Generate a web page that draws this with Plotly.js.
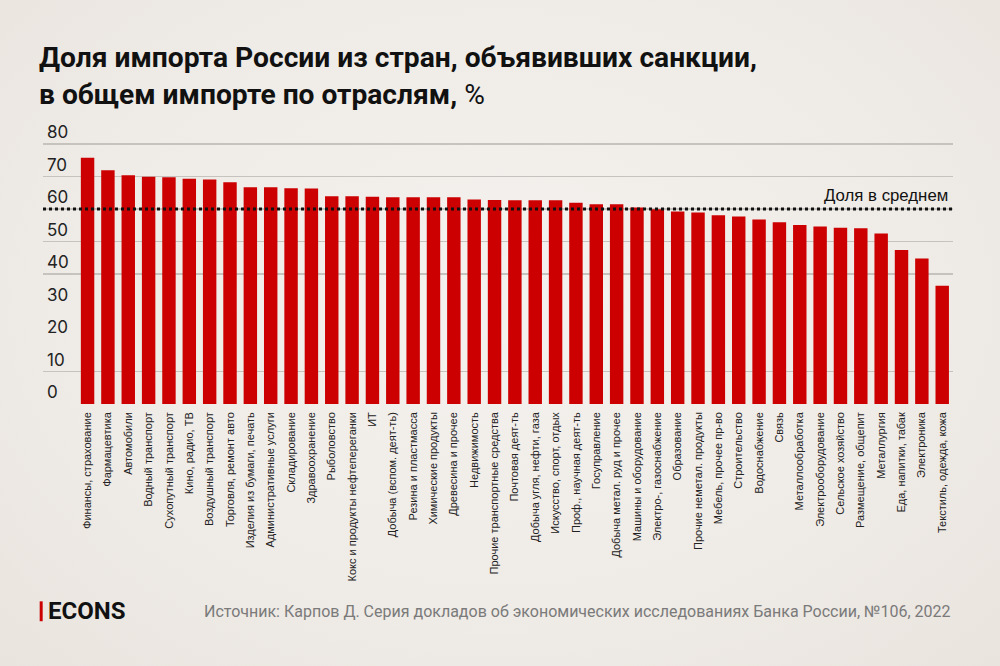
<!DOCTYPE html>
<html>
<head>
<meta charset="utf-8">
<script src="https://cdn.plot.ly/plotly-3.0.1.min.js"></script>
<style>
  html, body { margin: 0; padding: 0; }
  body { width: 1000px; height: 666px; background: radial-gradient(ellipse at 50% 45%, #f4f2ef 0%, #efebe6 60%, #e9e4de 100%); }
  #chart { width: 1000px; height: 666px; }
</style>
</head>
<body>
<div id="chart"></div>
<script>
const categories = [
  "Финансы, страхование", "Фармацевтика", "Автомобили", "Водный транспорт",
  "Сухопутный транспорт", "Кино, радио, ТВ", "Воздушный транспорт", "Торговля, ремонт авто",
  "Изделия из бумаги, печать", "Административные услуги", "Складирование", "Здравоохранение",
  "Рыболовство", "Кокс и продукты нефтепереганки", "ИТ", "Добыча (вспом. деят-ть)",
  "Резина и пластмасса", "Химические продукты", "Древесина и прочее", "Недвижимость",
  "Прочие транспортные средства", "Почтовая деят-ть", "Добыча угля, нефти, газа", "Искусство, спорт, отдых",
  "Проф., научная деят-ть", "Госуправление", "Добыча метал. руд и прочее", "Машины и оборудование",
  "Электро-, газоснабжение", "Образование", "Прочие неметал. продукты", "Мебель, прочее пр-во",
  "Строительство", "Водоснабжение", "Связь", "Металлообработка",
  "Электрооборудование", "Сельское хозяйство", "Размещение, общепит", "Металлургия",
  "Еда, напитки, табак", "Электроника", "Текстиль, одежда, кожа"
];
const values = [
  75.8, 71.9, 70.4, 69.9, 69.8, 69.3, 69.1, 68.2,
  66.7, 66.7, 66.4, 66.3, 63.9, 63.9, 63.8, 63.6,
  63.6, 63.6, 63.6, 62.9, 62.8, 62.7, 62.7, 62.7,
  61.9, 61.5, 61.5, 60.5, 59.9, 59.2, 58.9, 58.1,
  57.7, 56.8, 55.9, 55.1, 54.6, 54.2, 54.1, 52.5,
  47.4, 44.8, 36.4
];
const averageShare = 60;
const averageLabel = "Доля в среднем";
const yTickValues = [0, 10, 20, 30, 40, 50, 60, 70, 80];
const gridValues = [10, 40, 50, 60, 70, 80];
const titleText = "<b>Доля импорта России из стран, объявивших санкции,<br>в общем импорте по отраслям, </b>%";
const sourceText = "Источник: Карпов Д. Серия докладов об экономических исследованиях Банка России, №106, 2022";
const brandText = "<b>ECONS</b>";

const traces = [
  {
    type: "bar",
    x: categories,
    y: values,
    marker: { color: "#cc0000", line: { width: 0 } },
    hoverinfo: "x+y",
    xaxis: "x",
    yaxis: "y"
  },
  {
    type: "scatter",
    x: [categories[0]],
    y: [null],
    xaxis: "x",
    yaxis: "y2",
    showlegend: false,
    hoverinfo: "skip"
  }
];

// plot area: 0 -> 404.3 px, 80 -> 144 px  (3.254 px per unit); range to 88 => top at 118
const layout = {
  width: 1000,
  height: 666,
  paper_bgcolor: "rgba(0,0,0,0)",
  plot_bgcolor: "rgba(0,0,0,0)",
  margin: { l: 43, r: 47, t: 118, b: 262 },
  showlegend: false,
  bargap: 0.34,
  font: { family: "Roboto, 'Liberation Sans', sans-serif", color: "#1a1a1a" },
  title: {
    text: titleText,
    x: 0.039, xref: "container", xanchor: "left",
    y: 1 - 67 / 666, yref: "container", yanchor: "top",
    font: { family: "Roboto, 'Liberation Sans', sans-serif", size: 28.2, color: "#111111" }
  },
  xaxis: {
    type: "category",
    range: [-2.19, 42.53],
    tickangle: -90,
    ticks: "",
    ticklabelstandoff: 5,
    showgrid: false,
    zeroline: false,
    showline: false,
    tickfont: { family: "'Liberation Sans', Arial, sans-serif", size: 11, color: "#222222" },
    automargin: false
  },
  yaxis: {
    range: [0, 88],
    tickvals: yTickValues,
    ticktext: yTickValues.map(String),
    ticklabelposition: "inside top",
    ticklabelstandoff: 1,
    showgrid: false,
    zeroline: false,
    showline: false,
    ticks: "",
    tickfont: { family: "Inter, 'Open Sans', sans-serif", size: 17, color: "#222222" },
    automargin: false
  },
  yaxis2: {
    overlaying: "y",
    range: [0, 88],
    tickvals: gridValues,
    showticklabels: false,
    showgrid: true,
    gridcolor: "#c6c2bd",
    gridwidth: 1.5,
    zeroline: false,
    showline: false,
    ticks: ""
  },
  shapes: [
    {
      type: "line", xref: "paper", yref: "y",
      x0: 0, x1: 1, y0: averageShare, y1: averageShare,
      line: { color: "#111111", width: 3, dash: "dot" }
    },
    {
      type: "line", xref: "paper", yref: "paper",
      x0: -0.002, x1: -0.002, y0: -0.7595, y1: -0.690,
      line: { color: "#cc0000", width: 3 }
    }
  ],
  annotations: [
    {
      text: averageLabel, xref: "paper", yref: "y",
      x: 0.997, y: averageShare, xanchor: "right", yanchor: "bottom", yshift: 2,
      showarrow: false,
      font: { family: "'Liberation Sans', Arial, sans-serif", size: 16.8, color: "#111111" }
    },
    {
      text: brandText, xref: "paper", yref: "paper",
      x: 0.0035, y: -0.725, xanchor: "left", yanchor: "middle",
      showarrow: false,
      font: { family: "Roboto, 'Liberation Sans', sans-serif", size: 24, color: "#111111" }
    },
    {
      text: sourceText, xref: "paper", yref: "paper",
      x: 1, y: -0.725, xanchor: "right", yanchor: "middle",
      showarrow: false,
      font: { family: "Roboto, 'Liberation Sans', sans-serif", size: 16, color: "#7a7a7a" }
    }
  ]
};

Plotly.newPlot("chart", traces, layout, { displayModeBar: false, staticPlot: true });
</script>
</body>
</html>
